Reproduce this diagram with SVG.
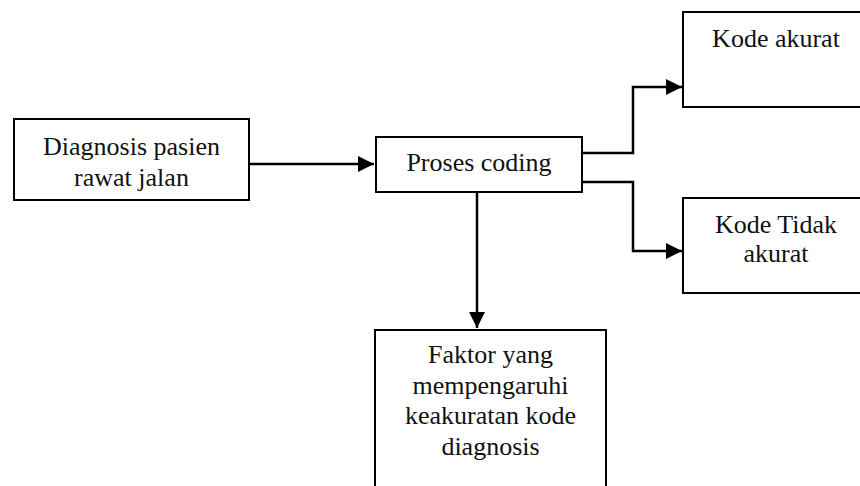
<svg xmlns="http://www.w3.org/2000/svg" width="860" height="486" viewBox="0 0 860 486">
<defs>
<style>
.box{fill:#fff;stroke:#000;stroke-width:2}
.t{font-family:"Liberation Serif","Times New Roman",serif;font-size:26px;fill:#111;text-anchor:middle}
.c{fill:none;stroke:#000;stroke-width:2.5}
</style>
<marker id="ah" viewBox="0 0 10 10" refX="10" refY="5" markerWidth="16" markerHeight="16" markerUnits="userSpaceOnUse" orient="auto">
<path d="M0,0 L10,5 L0,10 z" fill="#000"/>
</marker>
</defs>
<rect width="860" height="486" fill="#fff"/>
<g id="connectors">
<path class="c" d="M249,164 H374" marker-end="url(#ah)"/>
<path class="c" d="M582,153 H633 V87 H682" marker-end="url(#ah)"/>
<path class="c" d="M582,182 H633 V251 H682" marker-end="url(#ah)"/>
<path class="c" d="M477,192 V328" marker-end="url(#ah)"/>
</g>
<g id="n-diagnosis">
<rect class="box" x="14" y="119" width="235" height="81"/>
<text class="t" x="131.5" y="155">Diagnosis pasien</text>
<text class="t" x="131.5" y="186">rawat jalan</text>
</g>
<g id="n-proses">
<rect class="box" x="376" y="137" width="206" height="55"/>
<text class="t" x="479" y="171">Proses coding</text>
</g>
<g id="n-akurat">
<rect class="box" x="683" y="12" width="186" height="95"/>
<text class="t" x="776" y="47">Kode akurat</text>
</g>
<g id="n-tidak">
<rect class="box" x="683" y="198" width="186" height="95"/>
<text class="t" x="776" y="233">Kode Tidak</text>
<text class="t" x="776" y="262">akurat</text>
</g>
<g id="n-faktor">
<rect class="box" x="375" y="330" width="231" height="170"/>
<text class="t" x="490.5" y="363">Faktor yang</text>
<text class="t" x="490.5" y="394">mempengaruhi</text>
<text class="t" x="490.5" y="424">keakuratan kode</text>
<text class="t" x="490.5" y="455">diagnosis</text>
</g>
</svg>
